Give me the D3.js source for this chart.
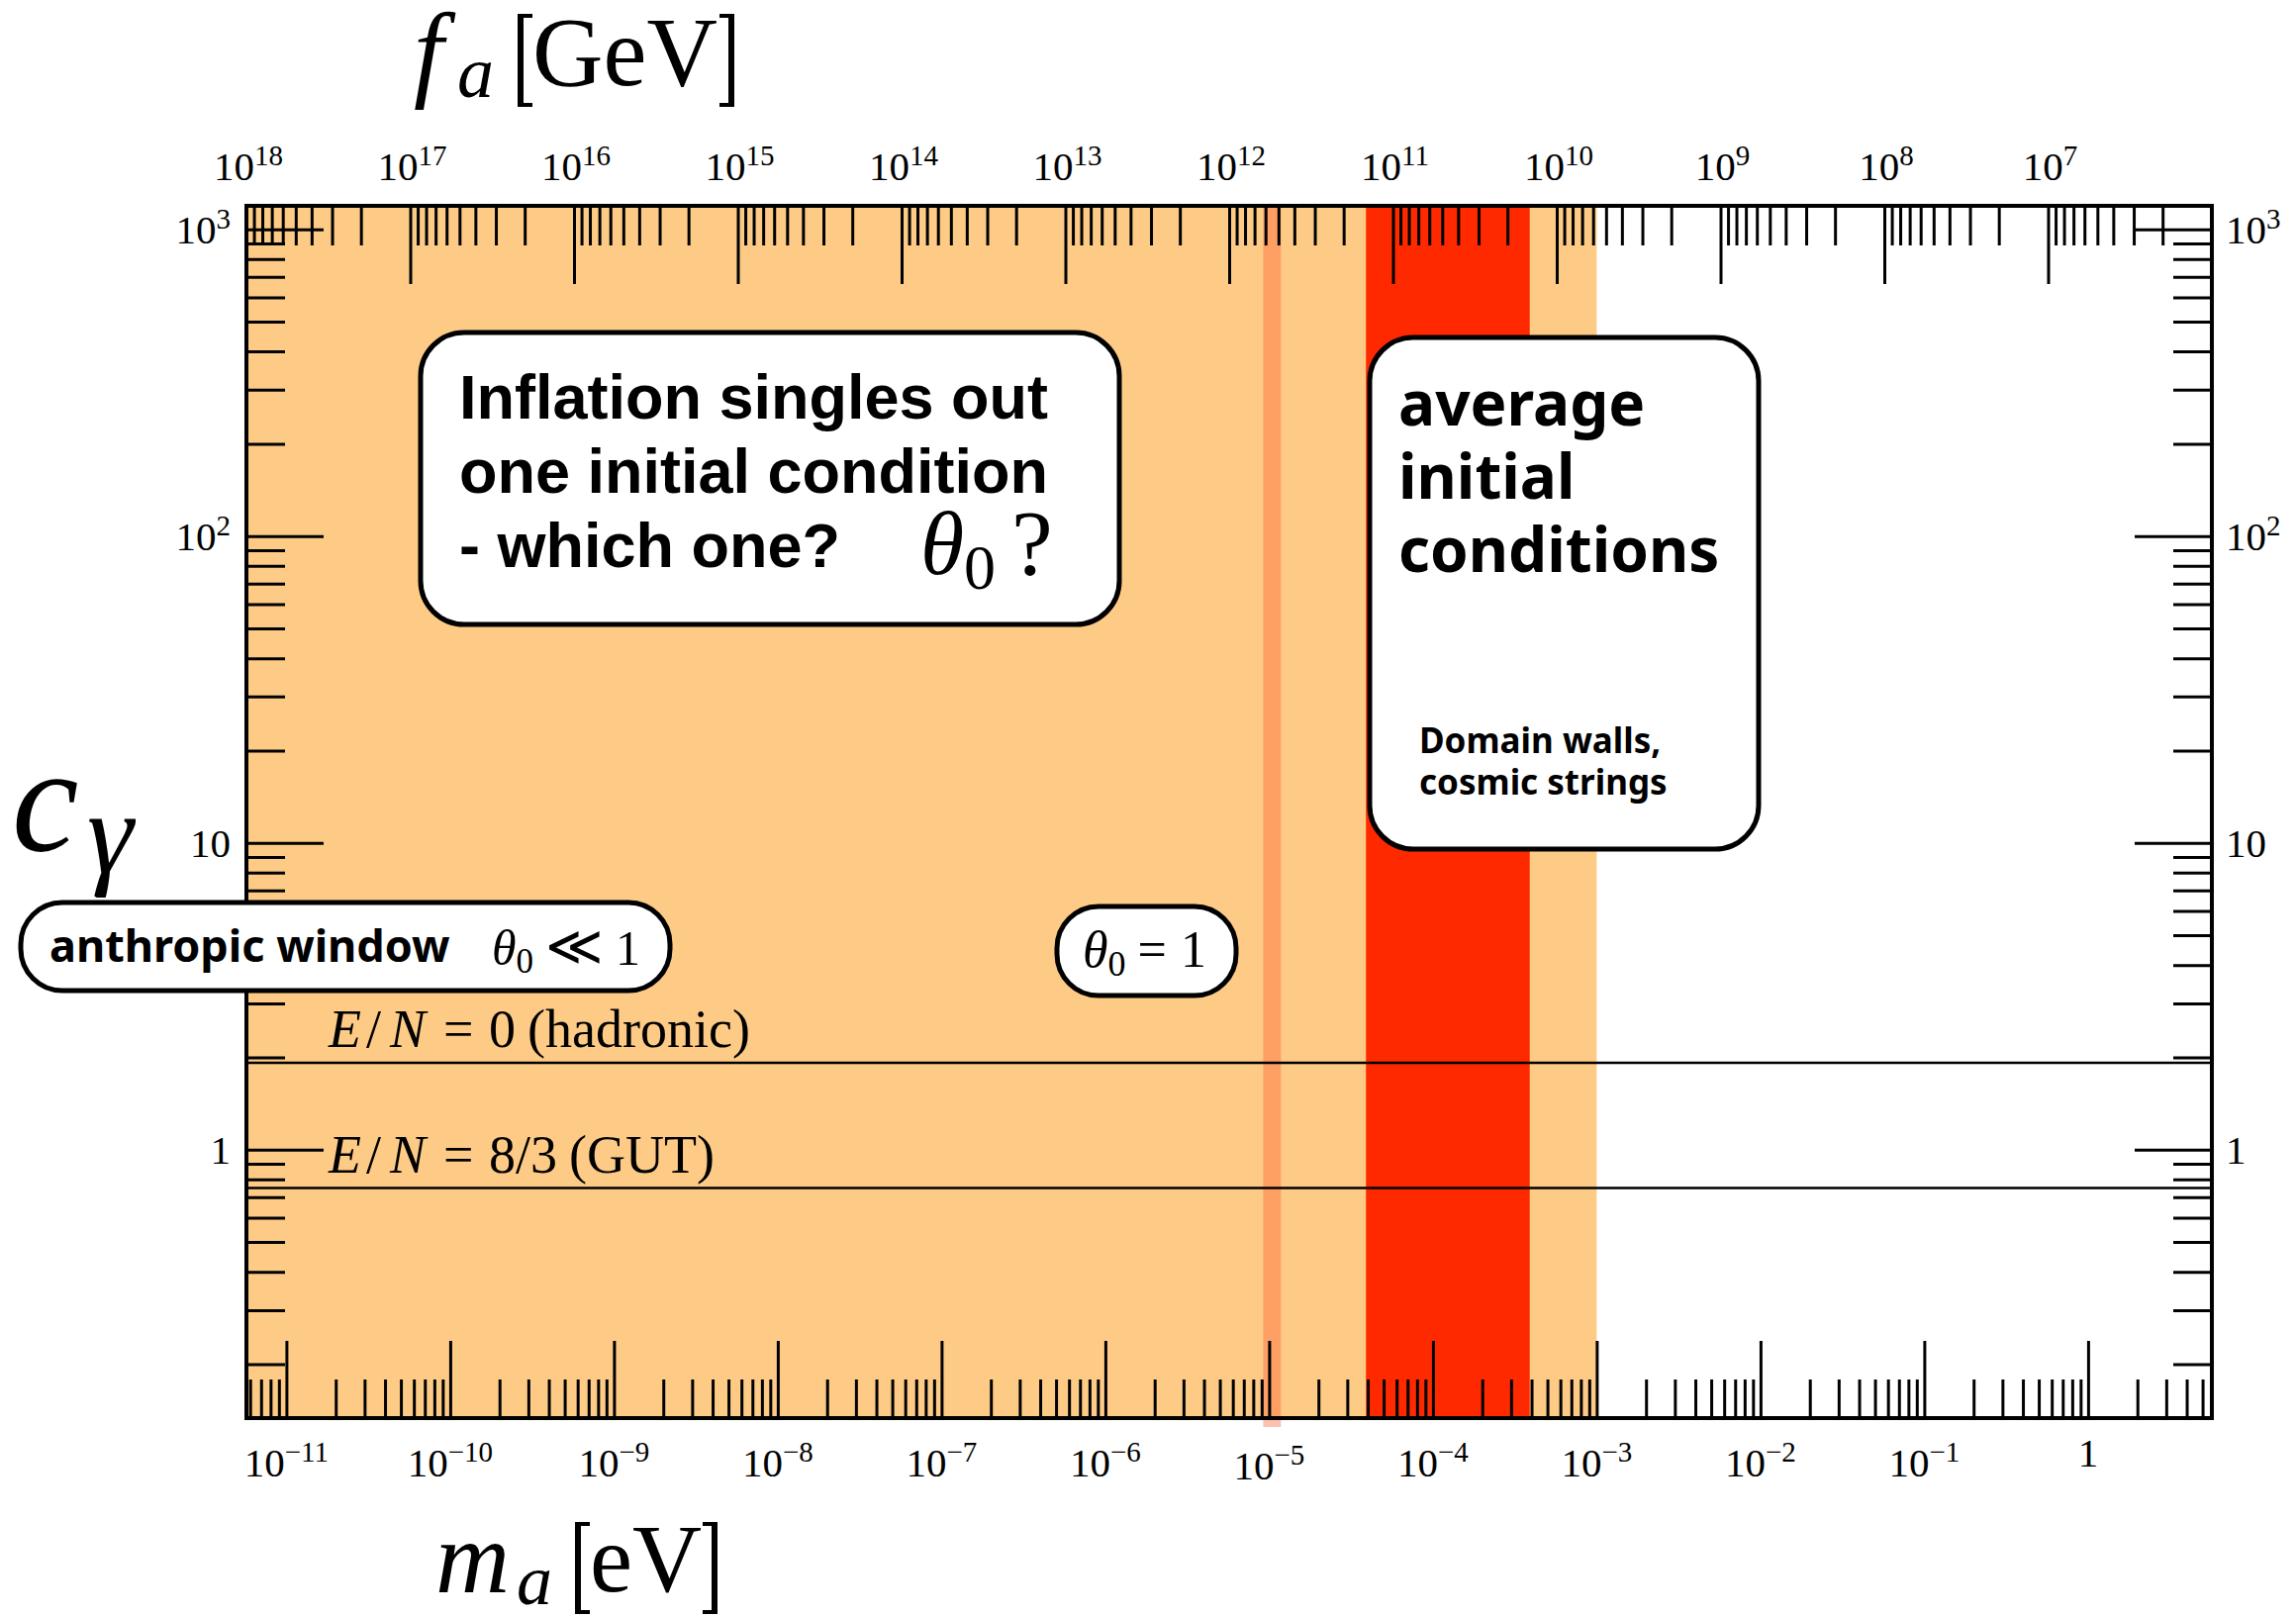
<!DOCTYPE html>
<html>
<head>
<meta charset="utf-8">
<script src="https://cdn.jsdelivr.net/npm/d3@7"></script>
<style>
  html, body { margin: 0; padding: 0; background: #fff; }
  svg { display: block; }
  .serif { font-family: "Liberation Serif", "Times New Roman", serif; }
  .sans { font-family: "Liberation Sans", Arial, sans-serif; font-weight: 700; }
  .rounded { font-family: "Noto Sans", "Open Sans", sans-serif; font-weight: 700; }
</style>
</head>
<body>
<svg id="chart" width="2320" height="1633"></svg>
<script>
// Axion mass range on the bottom axis (eV); the top axis is f_a = 5.7e6 GeV·eV / m_a
const massDomain = [5.7e-12, 5.7];
const faTimesMass = 5.7e6;
// Photon coupling c_gamma range on the vertical axis
const couplingDomain = [0.1334, 1193];

// Decade tick exponents for each axis
const massTickExponents = [-11, -10, -9, -8, -7, -6, -5, -4, -3, -2, -1, 0];
const faTickExponents = [18, 17, 16, 15, 14, 13, 12, 11, 10, 9, 8, 7];
const couplingTickExponents = [0, 1, 2, 3];

// Shaded mass intervals (eV)
const preInflationBand = [5.7e-12, 1e-3];     // initial angle set by inflation
const postInflationBand = [3.9e-5, 3.9e-4];   // averaged initial conditions
const thetaOneBand = [9.2e-6, 1.18e-5];       // theta_0 = 1

// Benchmark model couplings
const modelCouplings = [1.92, 0.75];
const modelNames = ["hadronic", "GUT"];
const modelRatios = ["0", "8/3"];

const plot = { left: 249, right: 2235, top: 208, bottom: 1433 };

const svg = d3.select("#chart");

const x = d3.scaleLog().domain(massDomain).range([plot.left, plot.right]);
const xf = d3.scaleLog()
  .domain([faTimesMass / massDomain[0], faTimesMass / massDomain[1]])
  .range([plot.left, plot.right]);
const y = d3.scaleLog().domain(couplingDomain).range([plot.bottom, plot.top]);

function minorTicks(domain) {
  const lo = Math.min(domain[0], domain[1]), hi = Math.max(domain[0], domain[1]);
  const out = [];
  for (let e = Math.floor(Math.log10(lo)) - 1; e <= Math.ceil(Math.log10(hi)); e++) {
    for (let k = 2; k <= 9; k++) {
      const v = k * Math.pow(10, e);
      if (v > lo && v < hi) out.push(v);
    }
  }
  return out;
}

// ---- shaded regions ----
const bands = svg.append("g");
bands.append("rect")
  .attr("x", x(preInflationBand[0]))
  .attr("width", x(preInflationBand[1]) - x(preInflationBand[0]))
  .attr("y", plot.top).attr("height", plot.bottom - plot.top)
  .attr("fill", "#fecb87");
bands.append("rect")
  .attr("x", x(postInflationBand[0]))
  .attr("width", x(postInflationBand[1]) - x(postInflationBand[0]))
  .attr("y", plot.top).attr("height", plot.bottom - plot.top)
  .attr("fill", "#ff2900");
bands.append("rect")
  .attr("x", x(thetaOneBand[0]))
  .attr("width", x(thetaOneBand[1]) - x(thetaOneBand[0]))
  .attr("y", plot.top).attr("height", plot.bottom - plot.top + 9)
  .attr("fill", "rgb(255,80,40)").attr("fill-opacity", 0.36);

// ---- model lines ----
svg.append("g").selectAll("line").data(modelCouplings).join("line")
  .attr("x1", plot.left).attr("x2", plot.right)
  .attr("y1", d => y(d)).attr("y2", d => y(d))
  .attr("stroke", "#000").attr("stroke-width", 2.6);

// ---- axes (ticks point inward) ----
function styleAxis(g) {
  g.select(".domain").remove();
  g.selectAll(".tick line").attr("stroke", "#000").attr("stroke-width", 3);
  g.selectAll(".tick text").remove();
}
const massMajors = massTickExponents.map(e => Math.pow(10, e));
const faMajors = faTickExponents.map(e => Math.pow(10, e));
const coupMajors = couplingTickExponents.map(e => Math.pow(10, e));

const axes = svg.append("g");
axes.append("g").attr("transform", `translate(0,${plot.bottom})`)
  .call(d3.axisBottom(x).tickValues(massMajors).tickSize(-78).tickFormat(""))
  .call(styleAxis);
axes.append("g").attr("transform", `translate(0,${plot.bottom})`)
  .call(d3.axisBottom(x).tickValues(minorTicks(massDomain)).tickSize(-39).tickFormat(""))
  .call(styleAxis);
axes.append("g").attr("transform", `translate(0,${plot.top})`)
  .call(d3.axisTop(xf).tickValues(faMajors).tickSize(-79).tickFormat(""))
  .call(styleAxis);
axes.append("g").attr("transform", `translate(0,${plot.top})`)
  .call(d3.axisTop(xf).tickValues(minorTicks(xf.domain())).tickSize(-40).tickFormat(""))
  .call(styleAxis);
axes.append("g").attr("transform", `translate(${plot.left},0)`)
  .call(d3.axisLeft(y).tickValues(coupMajors).tickSize(-78).tickFormat(""))
  .call(styleAxis);
axes.append("g").attr("transform", `translate(${plot.left},0)`)
  .call(d3.axisLeft(y).tickValues(minorTicks(couplingDomain)).tickSize(-39).tickFormat(""))
  .call(styleAxis);
axes.append("g").attr("transform", `translate(${plot.right},0)`)
  .call(d3.axisRight(y).tickValues(coupMajors).tickSize(-78).tickFormat(""))
  .call(styleAxis);
axes.append("g").attr("transform", `translate(${plot.right},0)`)
  .call(d3.axisRight(y).tickValues(minorTicks(couplingDomain)).tickSize(-39).tickFormat(""))
  .call(styleAxis);

// frame
svg.append("rect")
  .attr("x", plot.left).attr("y", plot.top)
  .attr("width", plot.right - plot.left).attr("height", plot.bottom - plot.top)
  .attr("fill", "none").attr("stroke", "#000").attr("stroke-width", 4);

// ---- tick labels ----
function powerLabel(text, exp) {
  const minus = "\u2212";
  if (exp === 0) { text.text("1"); return; }
  if (exp === 1) { text.text("10"); return; }
  text.append("tspan").text("10");
  text.append("tspan").attr("font-size", 29).attr("dy", -15)
    .text(exp < 0 ? minus + Math.abs(exp) : String(exp));
}

svg.append("g").attr("class", "serif").selectAll("text").data(faTickExponents).join("text")
  .attr("x", d => xf(Math.pow(10, d)) + 2)
  .attr("y", 182)
  .attr("text-anchor", "middle").attr("font-size", 41)
  .each(function (d) { powerLabel(d3.select(this), d); });

svg.append("g").attr("class", "serif").selectAll("text").data(massTickExponents).join("text")
  .attr("x", d => x(Math.pow(10, d)))
  .attr("y", d => d === 0 ? 1482 : (d === -5 ? 1495 : 1492))
  .attr("text-anchor", "middle").attr("font-size", 41)
  .each(function (d) { powerLabel(d3.select(this), d); });

svg.append("g").attr("class", "serif").selectAll("text").data(couplingTickExponents).join("text")
  .attr("x", 233)
  .attr("y", d => y(Math.pow(10, d)) + 14)
  .attr("text-anchor", "end").attr("font-size", 41)
  .each(function (d) { powerLabel(d3.select(this), d); });

svg.append("g").attr("class", "serif").selectAll("text").data(couplingTickExponents).join("text")
  .attr("x", 2249)
  .attr("y", d => y(Math.pow(10, d)) + 14)
  .attr("text-anchor", "start").attr("font-size", 41)
  .each(function (d) { powerLabel(d3.select(this), d); });

// ---- axis titles ----
// square brackets drawn as outlines so their height can span the whole label
function bracket(g, x0, y0, y1, open) {
  const arm = 15, stem = 6, bar = 4;
  const p = d3.path();
  if (open) {
    p.moveTo(x0, y0); p.lineTo(x0 + arm, y0); p.lineTo(x0 + arm, y0 + bar);
    p.lineTo(x0 + stem, y0 + bar); p.lineTo(x0 + stem, y1 - bar); p.lineTo(x0 + arm, y1 - bar);
    p.lineTo(x0 + arm, y1); p.lineTo(x0, y1); p.closePath();
  } else {
    const xr = x0 + arm;
    p.moveTo(xr, y0); p.lineTo(x0, y0); p.lineTo(x0, y0 + bar);
    p.lineTo(xr - stem, y0 + bar); p.lineTo(xr - stem, y1 - bar); p.lineTo(x0, y1 - bar);
    p.lineTo(x0, y1); p.lineTo(xr, y1); p.closePath();
  }
  g.append("path").attr("d", p.toString()).attr("fill", "#000");
}

const titles = svg.append("g").attr("class", "serif");
// f_a [GeV]
titles.append("text").attr("x", 418).attr("y", 88).attr("font-size", 108)
  .attr("font-style", "italic").text("f");
titles.append("text").attr("x", 462).attr("y", 98).attr("font-size", 74)
  .attr("font-style", "italic").text("a");
bracket(titles, 523, 14, 108, true);
titles.append("text").attr("x", 538).attr("y", 86).attr("font-size", 99).text("GeV");
bracket(titles, 727, 14, 108, false);
// m_a [eV]
titles.append("text").attr("x", 440).attr("y", 1609).attr("font-size", 104)
  .attr("font-style", "italic").text("m");
titles.append("text").attr("x", 522).attr("y", 1621).attr("font-size", 72)
  .attr("font-style", "italic").text("a");
bracket(titles, 581, 1538, 1631, true);
titles.append("text").attr("x", 596).attr("y", 1608).attr("font-size", 97).text("eV");
bracket(titles, 710, 1538, 1631, false);
// c_gamma
titles.append("text").attr("x", 12).attr("y", 860).attr("font-size", 152)
  .attr("font-style", "italic").text("c");
titles.append("text").attr("x", 88).attr("y", 882).attr("font-size", 118)
  .attr("font-style", "italic").text("\u03B3");

// ---- model line labels ----
const modelLabels = svg.append("g").attr("class", "serif").attr("font-size", 54);
modelCouplings.forEach((c, i) => {
  const base = y(c) - 16;
  const t = modelLabels.append("text").attr("y", base);
  t.append("tspan").attr("x", 332).attr("font-style", "italic").text("E");
  t.append("tspan").attr("x", 370).text("/");
  t.append("tspan").attr("x", 394).attr("font-style", "italic").text("N");
  t.append("tspan").attr("x", 448).text("=");
  const ratio = t.append("tspan").attr("x", 494).text(modelRatios[i]);
  const w = ratio.node().getComputedTextLength();
  t.append("tspan").attr("x", 494 + w + 12).text("(" + modelNames[i] + ")");
});

// ---- annotation boxes ----
function box(x0, y0, w, h, r) {
  svg.append("rect").attr("x", x0).attr("y", y0).attr("width", w).attr("height", h)
    .attr("rx", r).attr("ry", r)
    .attr("fill", "#fff").attr("stroke", "#000").attr("stroke-width", 5);
}

// inflation box
box(425, 336, 706, 295, 44);
const infl = svg.append("g").attr("class", "sans").attr("font-size", 63);
["Inflation singles out", "one initial condition", "- which one?"].forEach((s, i) => {
  infl.append("text").attr("x", 464).attr("y", 423 + i * 75).text(s);
});
const q = svg.append("g").attr("class", "serif");
q.append("text").attr("x", 930).attr("y", 580).attr("font-size", 90)
  .attr("font-style", "italic").text("\u03B8");
q.append("text").attr("x", 974).attr("y", 595).attr("font-size", 64).text("0");
q.append("text").attr("x", 1022).attr("y", 580).attr("font-size", 94).text("?");

// average initial conditions box
box(1384, 341, 393, 517, 44);
const avg = svg.append("g").attr("class", "rounded").attr("font-size", 62);
["average", "initial", "conditions"].forEach((s, i) => {
  avg.append("text").attr("x", 1413).attr("y", 430 + i * 74).text(s);
});
const dw = svg.append("g").attr("class", "rounded").attr("font-size", 35);
["Domain walls,", "cosmic strings"].forEach((s, i) => {
  dw.append("text").attr("x", 1434).attr("y", 761 + i * 42).text(s);
});

// anthropic window pill
box(21, 912, 656, 89, 42);
svg.append("text").attr("class", "rounded").attr("font-size", 45)
  .attr("x", 50).attr("y", 972).text("anthropic window");
const aw = svg.append("text").attr("class", "serif").attr("x", 497).attr("y", 975).attr("font-size", 50);
aw.append("tspan").attr("font-style", "italic").text("\u03B8");
aw.append("tspan").attr("font-size", 35).attr("dy", 8).text("0");
aw.append("tspan").attr("dy", -8).attr("dx", 12).attr("font-size", 56).text("\u226A");
aw.append("tspan").attr("dx", 12).text("1");

// theta_0 = 1 pill
box(1068, 916, 181, 90, 42);
const t1 = svg.append("text").attr("class", "serif").attr("x", 1094).attr("y", 977).attr("font-size", 52);
t1.append("tspan").attr("font-style", "italic").text("\u03B8");
t1.append("tspan").attr("font-size", 36).attr("dy", 9).text("0");
t1.append("tspan").attr("dy", -9).attr("dx", 12).text("=");
t1.append("tspan").attr("dx", 14).text("1");
</script>
</body>
</html>
